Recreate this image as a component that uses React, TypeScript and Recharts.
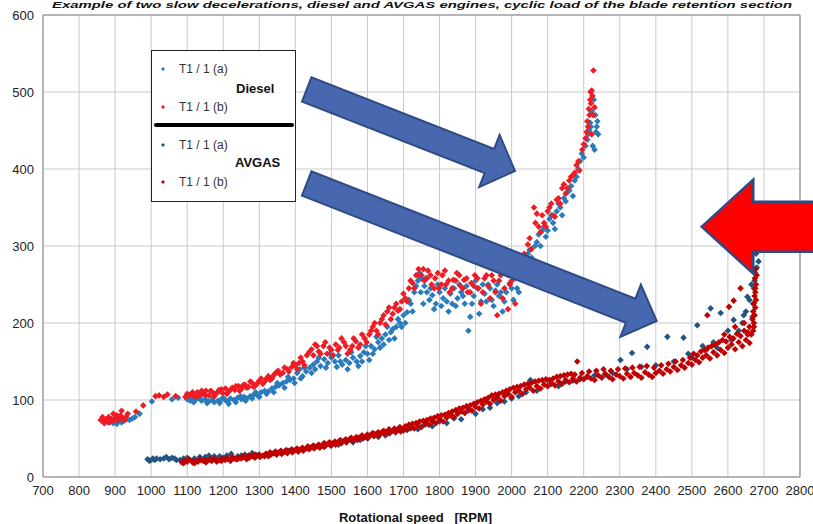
import React from "react";
import {
  CartesianGrid,
  Legend,
  ReferenceLine,
  Scatter,
  ScatterChart,
  XAxis,
  YAxis,
} from "recharts";

type Pt = [number, number];

const X_TICKS = [700, 800, 900, 1000, 1100, 1200, 1300, 1400, 1500, 1600, 1700, 1800, 1900, 2000, 2100, 2200, 2300, 2400, 2500, 2600, 2700, 2800];
const Y_TICKS = [0, 100, 200, 300, 400, 500, 600];

const SERIES_NAMES = ["T1 / 1 (a)", "T1 / 1 (b)", "T1 / 1 (a)", "T1 / 1 (b)"];
const GROUP_NAMES = ["Diesel", "AVGAS"];
const COLORS = ["#2a7bbb", "#ee1c24", "#225682", "#c00000"];

// diesel, run (a)
const dieselA: Pt[] = [
  [865, 72], [872, 74], [880, 71], [885, 76], [888, 73], [895, 70], [902, 72], [905, 69], [910, 74], [918, 71],
  [920, 77], [925, 73], [932, 75], [940, 74], [948, 76], [955, 78], [968, 82], [1002, 98], [1058, 101], [1075, 103],
  [1100, 101], [1108, 99], [1115, 103], [1122, 100], [1130, 102], [1140, 99], [1150, 101], [1160, 98], [1168, 100], [1175, 97],
  [1185, 99], [1195, 101], [1205, 100], [1212, 98], [1220, 102], [1230, 100], [1240, 103], [1250, 101], [1258, 104], [1265, 102],
  [1275, 105], [1285, 107], [1295, 106], [1305, 110], [1315, 112], [1325, 111], [1335, 115], [1345, 117], [1355, 119], [1365, 122],
  [1375, 124], [1385, 126], [1395, 128], [1405, 135], [1412, 140], [1420, 131], [1430, 137], [1440, 142], [1450, 146], [1460, 150],
  [1470, 144], [1480, 153], [1490, 148], [1500, 155], [1510, 150], [1520, 158], [1530, 146], [1540, 152], [1550, 148], [1560, 155],
  [1570, 150], [1580, 157], [1590, 162], [1600, 160], [1610, 170], [1620, 166], [1630, 175], [1640, 180], [1650, 185], [1660, 178],
  [1670, 192], [1680, 195], [1690, 200], [1700, 210], [1710, 214], [1720, 225], [1730, 240], [1740, 255], [1745, 265], [1750, 258],
  [1758, 248], [1765, 240], [1772, 230], [1780, 236], [1790, 225], [1800, 240], [1810, 232], [1820, 228], [1830, 238], [1840, 245],
  [1850, 232], [1860, 240], [1870, 225], [1880, 190], [1885, 208], [1895, 235], [1905, 245], [1915, 228], [1925, 238], [1935, 250],
  [1945, 230], [1955, 242], [1965, 235], [1975, 215], [1985, 240], [1995, 252], [2005, 230], [2015, 245], [2025, 258], [2035, 262],
  [2045, 290], [2055, 285], [2065, 300], [2075, 315], [2085, 320], [2095, 312], [2105, 335], [2115, 330], [2125, 345], [2135, 350],
  [2145, 362], [2155, 370], [2165, 378], [2175, 385], [2185, 400], [2195, 420], [2205, 430], [2212, 445], [2218, 460], [2222, 475],
  [2228, 490], [2232, 470], [2236, 455], [2240, 445], [2225, 430], [2215, 450], [2230, 425],
  [1105, 104], [1118, 97], [1135, 104], [1155, 96], [1172, 103], [1190, 96], [1200, 103], [1215, 95], [1235, 97], [1248, 105],
  [1262, 99], [1280, 102], [1290, 110], [1300, 104], [1320, 108], [1340, 110], [1350, 122], [1370, 116], [1380, 130], [1398, 122],
  [1415, 128], [1425, 142], [1445, 135], [1455, 140], [1465, 155], [1485, 142], [1495, 160], [1515, 143], [1525, 150], [1545, 140],
  [1555, 162], [1575, 144], [1585, 150], [1595, 170], [1605, 152], [1615, 160], [1625, 182], [1635, 168], [1645, 172], [1655, 195],
  [1665, 188], [1675, 180], [1685, 205], [1695, 195], [1705, 200], [1715, 230], [1725, 215], [1735, 248], [1748, 240], [1755, 225],
  [1762, 258], [1775, 245], [1785, 218], [1795, 250], [1805, 222], [1815, 245], [1825, 215], [1835, 225], [1845, 222], [1855, 250],
  [1865, 235], [1875, 248], [1890, 225], [1900, 255], [1910, 212], [1920, 250], [1930, 228], [1940, 245], [1950, 222], [1960, 250],
  [1970, 240], [1980, 228], [1990, 262], [2000, 245], [2010, 258], [2020, 240], [2030, 270], [2040, 275], [2050, 295], [2060, 280],
  [2070, 305], [2080, 300], [2090, 325], [2100, 320], [2110, 340], [2120, 322], [2130, 355], [2140, 340], [2150, 358], [2160, 372],
  [2170, 365], [2180, 390], [2190, 410], [2200, 415], [2210, 438], [2220, 455], [2234, 448], [2238, 462],
];

// diesel, run (b)
const dieselB: Pt[] = [
  [860, 74], [868, 76], [870, 70], [875, 72], [882, 78], [890, 75], [895, 82], [897, 73], [905, 80], [912, 77],
  [918, 86], [925, 74], [930, 78], [958, 85], [978, 93], [1012, 105], [1022, 106], [1035, 104], [1045, 107], [1068, 105],
  [1095, 104], [1105, 106], [1112, 108], [1120, 105], [1128, 110], [1136, 107], [1145, 109], [1152, 112], [1160, 106], [1170, 110],
  [1178, 108], [1188, 113], [1198, 109], [1206, 115], [1215, 111], [1225, 116], [1232, 113], [1242, 118], [1250, 114], [1260, 120],
  [1270, 117], [1280, 122], [1290, 119], [1300, 125], [1310, 121], [1320, 128], [1330, 126], [1340, 132], [1352, 138], [1365, 135],
  [1378, 140], [1390, 143], [1400, 145], [1410, 148], [1420, 150], [1432, 158], [1445, 166], [1455, 172], [1465, 163], [1478, 170],
  [1488, 160], [1500, 165], [1512, 172], [1522, 168], [1535, 175], [1545, 160], [1558, 170], [1568, 176], [1580, 172], [1592, 180],
  [1605, 185], [1615, 195], [1625, 190], [1635, 200], [1645, 210], [1655, 215], [1665, 205], [1675, 220], [1685, 216], [1695, 228],
  [1705, 232], [1715, 245], [1725, 252], [1735, 262], [1742, 270], [1750, 262], [1758, 255], [1768, 268], [1778, 250], [1788, 258],
  [1798, 245], [1808, 262], [1818, 250], [1828, 240], [1838, 256], [1848, 265], [1858, 248], [1868, 256], [1878, 240], [1888, 252],
  [1898, 262], [1908, 245], [1915, 225], [1925, 258], [1935, 248], [1945, 262], [1955, 240], [1960, 210], [1965, 255], [1975, 232],
  [1985, 265], [1990, 218], [1995, 250], [2005, 270], [2010, 225], [2015, 262], [2025, 280], [2035, 290], [2045, 302], [2055, 296],
  [2062, 350], [2070, 342], [2080, 318], [2090, 330], [2100, 345], [2110, 355], [2120, 338], [2130, 362], [2140, 375], [2150, 368],
  [2160, 385], [2170, 392], [2180, 405], [2188, 398], [2196, 425], [2205, 440], [2210, 462], [2212, 455], [2216, 470], [2219, 500],
  [2220, 485], [2222, 445], [2224, 495], [2227, 528], [2230, 480],
  [865, 78], [878, 75], [885, 71], [900, 77], [908, 74], [915, 80], [922, 76], [935, 82], [1100, 108], [1115, 110],
  [1125, 104], [1140, 112], [1150, 106], [1165, 112], [1175, 105], [1185, 110], [1195, 114], [1210, 108], [1220, 113], [1235, 118],
  [1245, 112], [1255, 119], [1265, 116], [1275, 124], [1285, 117], [1295, 122], [1305, 128], [1315, 124], [1325, 131], [1335, 128],
  [1345, 135], [1358, 133], [1370, 142], [1382, 137], [1395, 148], [1405, 140], [1415, 155], [1425, 145], [1438, 162], [1450, 158],
  [1460, 170], [1470, 160], [1483, 175], [1495, 168], [1505, 158], [1518, 165], [1528, 180], [1540, 170], [1552, 165], [1562, 180],
  [1575, 168], [1585, 185], [1598, 175], [1610, 190], [1620, 200], [1630, 185], [1640, 205], [1650, 198], [1660, 220], [1670, 212],
  [1680, 225], [1690, 218], [1700, 238], [1710, 228], [1720, 255], [1730, 245], [1740, 262], [1755, 270], [1765, 258], [1775, 262],
  [1785, 245], [1795, 265], [1805, 250], [1815, 268], [1825, 255], [1835, 245], [1845, 255], [1855, 262], [1865, 245], [1875, 258],
  [1885, 240], [1895, 248], [1905, 258], [1920, 240], [1930, 262], [1940, 232], [1950, 255], [1970, 262], [1980, 245], [2000, 255],
  [2020, 270], [2030, 275], [2040, 285], [2050, 310], [2066, 330], [2075, 325], [2085, 340], [2095, 325], [2105, 350], [2115, 340],
  [2125, 360], [2135, 355], [2145, 380], [2155, 375], [2165, 390], [2175, 395], [2185, 410], [2200, 432], [2208, 448], [2214, 478],
  [2218, 490], [2226, 470], [2222, 502],
];

// AVGAS, run (a)
const avgasA: Pt[] = [
  [990, 23], [995, 21], [1000, 22], [1005, 24], [1010, 22], [1035, 24], [1042, 26], [1050, 23], [1058, 25], [1065, 24],
  [1080, 22], [1090, 24], [1100, 25], [1150, 26], [1160, 28], [1175, 27], [1210, 28], [1222, 30], [1240, 27], [1260, 29],
  [1290, 29], [1320, 30], [1360, 33], [1400, 35], [1440, 37], [1480, 39], [1520, 42], [1560, 45], [1600, 50], [1630, 52],
  [1660, 57], [1700, 60], [1740, 62], [1780, 66], [1820, 70], [1860, 75], [1900, 82], [1940, 90], [1980, 98], [2020, 105],
  [2052, 126], [2098, 126], [2130, 118], [2170, 125], [2210, 130], [2260, 133], [2302, 152], [2334, 161], [2376, 169], [2432, 182],
  [2477, 181], [2490, 160], [2515, 197], [2530, 170], [2552, 219], [2560, 175], [2580, 213], [2600, 190], [2616, 204], [2640, 200],
  [2644, 210], [2654, 234], [2665, 250], [2668, 208], [2672, 245], [2676, 265], [2678, 290], [2680, 272], [2685, 280],
  [1015, 24], [1025, 23], [1070, 22], [1120, 24], [1135, 26], [1190, 27], [1200, 25], [1250, 28], [1280, 31], [1340, 31],
  [1380, 34], [1420, 36], [1460, 40], [1500, 41], [1540, 46], [1580, 48], [1620, 55], [1650, 54], [1680, 61], [1720, 63],
  [1760, 68], [1800, 72], [1840, 76], [1880, 86], [1920, 88], [1960, 96], [2000, 102], [2040, 110], [2070, 112], [2110, 121],
  [2150, 124], [2190, 127], [2230, 132], [2280, 135], [2320, 140], [2360, 143], [2400, 145], [2450, 150], [2500, 155], [2540, 165],
  [2570, 168], [2610, 178], [2630, 190], [2650, 215], [2660, 230], [2670, 225], [2674, 255],
];

// AVGAS, run (b)
const avgasB: Pt[] = [
  [1085, 19], [1092, 21], [1100, 20], [1108, 22], [1115, 19], [1122, 21], [1130, 20], [1138, 22], [1145, 21], [1152, 19],
  [1160, 22], [1168, 21], [1175, 23], [1182, 20], [1190, 22], [1198, 24], [1205, 22], [1212, 23], [1220, 21], [1228, 24],
  [1235, 23], [1242, 25], [1250, 24], [1258, 26], [1265, 23], [1272, 25], [1280, 27], [1288, 25], [1295, 28], [1302, 26],
  [1310, 28], [1318, 30], [1325, 27], [1332, 29], [1340, 31], [1348, 29], [1355, 32], [1362, 30], [1370, 33], [1378, 31],
  [1385, 34], [1392, 32], [1400, 35], [1408, 33], [1415, 36], [1422, 34], [1430, 37], [1438, 36], [1445, 39], [1452, 37],
  [1460, 40], [1468, 38], [1475, 41], [1482, 40], [1490, 43], [1498, 41], [1505, 44], [1512, 42], [1520, 46], [1528, 44],
  [1535, 47], [1542, 45], [1550, 49], [1558, 47], [1565, 50], [1572, 48], [1580, 52], [1588, 50], [1595, 53], [1602, 51],
  [1610, 55], [1618, 53], [1625, 56], [1632, 54], [1640, 58], [1648, 56], [1655, 59], [1662, 57], [1670, 60], [1678, 58],
  [1685, 62], [1692, 59], [1700, 63], [1710, 61], [1720, 65], [1730, 63], [1740, 67], [1750, 65], [1760, 70], [1770, 68],
  [1780, 72], [1790, 70], [1800, 75], [1810, 72], [1820, 77], [1830, 80], [1840, 78], [1850, 82], [1860, 85], [1870, 83],
  [1880, 88], [1890, 86], [1900, 91], [1910, 89], [1920, 94], [1930, 98], [1940, 95], [1950, 100], [1960, 103], [1970, 99],
  [1980, 105], [1990, 108], [2000, 104], [2010, 110], [2020, 112], [2030, 108], [2040, 114], [2050, 116], [2060, 112], [2070, 118],
  [2080, 115], [2090, 120], [2100, 118], [2110, 122], [2120, 119], [2130, 124], [2140, 121], [2150, 126], [2160, 123], [2170, 128],
  [2180, 124], [2182, 150], [2190, 129], [2200, 127], [2210, 131], [2220, 128], [2230, 126], [2240, 132], [2250, 129], [2260, 134],
  [2270, 130], [2280, 127], [2290, 133], [2300, 131], [2310, 128], [2320, 134], [2330, 130], [2340, 135], [2350, 132], [2360, 129],
  [2370, 136], [2380, 133], [2390, 130], [2400, 135], [2410, 138], [2420, 134], [2430, 140], [2440, 137], [2450, 143], [2460, 139],
  [2470, 145], [2480, 142], [2490, 148], [2500, 146], [2510, 152], [2520, 149], [2530, 155], [2540, 158], [2543, 210], [2550, 154],
  [2560, 162], [2570, 158], [2580, 165], [2590, 161], [2590, 185], [2600, 168], [2603, 221], [2610, 172], [2616, 229], [2620, 166],
  [2620, 195], [2630, 175], [2635, 245], [2640, 170], [2645, 200], [2650, 178], [2655, 185], [2660, 174], [2665, 185], [2670, 190],
  [2672, 195], [2672, 200], [2674, 210], [2675, 258], [2676, 220], [2676, 240], [2678, 230], [2678, 250],
  [1090, 18], [1105, 23], [1120, 18], [1135, 23], [1150, 22], [1165, 24], [1180, 23], [1195, 21], [1210, 25], [1225, 26],
  [1240, 23], [1255, 27], [1270, 28], [1285, 29], [1300, 29], [1315, 27], [1330, 32], [1345, 33], [1360, 34], [1375, 35],
  [1390, 36], [1405, 37], [1420, 38], [1435, 40], [1450, 41], [1465, 42], [1480, 44], [1495, 45], [1510, 46], [1525, 48],
  [1540, 49], [1555, 51], [1570, 52], [1585, 54], [1600, 55], [1615, 57], [1630, 58], [1645, 60], [1660, 62], [1675, 63],
  [1690, 65], [1705, 66], [1715, 68], [1725, 69], [1735, 70], [1745, 72], [1755, 73], [1765, 74], [1775, 76], [1785, 77],
  [1795, 79], [1805, 80], [1815, 81], [1825, 83], [1835, 85], [1845, 87], [1855, 89], [1865, 90], [1875, 92], [1885, 93],
  [1895, 95], [1905, 97], [1915, 99], [1925, 101], [1935, 103], [1945, 106], [1955, 107], [1965, 108], [1975, 110], [1985, 112],
  [1995, 114], [2005, 116], [2015, 117], [2025, 118], [2035, 120], [2045, 121], [2055, 122], [2065, 124], [2075, 125], [2085, 126],
  [2095, 127], [2105, 126], [2115, 128], [2125, 130], [2135, 131], [2145, 132], [2155, 133], [2165, 134], [2175, 133], [2195, 135],
  [2215, 137], [2235, 138], [2255, 140], [2275, 138], [2295, 140], [2315, 141], [2335, 142], [2355, 143], [2375, 144], [2395, 142],
  [2415, 145], [2435, 147], [2455, 150], [2475, 152], [2495, 155], [2505, 160], [2515, 158], [2525, 163], [2535, 165], [2545, 168],
  [2555, 170], [2565, 172], [2575, 175], [2585, 178], [2595, 176], [2605, 182], [2615, 180], [2625, 186], [2635, 183], [2645, 190],
  [2655, 188], [2660, 195], [2668, 205], [2670, 215], [2672, 225], [2674, 235], [2676, 245], [2680, 262], [2677, 270],
];

const toRows = (pts: Pt[]) => pts.map(([x, y]) => ({ x, y }));

const NARROW = "'Liberation Sans Narrow', 'Arial Narrow', 'Liberation Sans', sans-serif";
const SANS = "'Liberation Sans', Arial, sans-serif";

function Dot(props: any) {
  const { cx, cy, fill } = props;
  if (cx == null || cy == null) return null;
  const r = 3.3;
  return <path d={`M${cx},${cy - r}L${cx + r},${cy}L${cx},${cy + r}L${cx - r},${cy}Z`} fill={fill} />;
}

function LegendBox() {
  const rows = [
    { y: 19, color: COLORS[0], name: SERIES_NAMES[0] },
    { y: 57, color: COLORS[1], name: SERIES_NAMES[1] },
    { y: 95, color: COLORS[2], name: SERIES_NAMES[2] },
    { y: 132, color: COLORS[3], name: SERIES_NAMES[3] },
  ];
  return (
    <svg width={145} height={152} style={{ display: "block" }}>
      <rect x={0.5} y={0.5} width={144} height={151} fill="#fff" stroke="#222" />
      {rows.map((r, i) => (
        <g key={i}>
          <path d={`M12,${r.y - 2}L14,${r.y}L12,${r.y + 2}L10,${r.y}Z`} fill={r.color} />
          <text x={28} y={r.y + 4} fontSize={12} fontFamily={SANS} fill="#333">
            {r.name}
          </text>
        </g>
      ))}
      <text x={85} y={43} fontSize={13} fontWeight="bold" fontFamily={SANS} fill="#111">
        {GROUP_NAMES[0]}
      </text>
      <line x1={5} y1={75} x2={141} y2={75} stroke="#000" strokeWidth={4} strokeLinecap="round" />
      <text x={84} y={117} fontSize={13} fontWeight="bold" fontFamily={SANS} fill="#111">
        {GROUP_NAMES[1]}
      </text>
    </svg>
  );
}

// arrow outline from tail middle to tip
function arrow(tx: number, ty: number, hx: number, hy: number, shaft: number, head: number, headLen: number) {
  const len = Math.hypot(hx - tx, hy - ty);
  const ux = (hx - tx) / len;
  const uy = (hy - ty) / len;
  const nx = -uy;
  const ny = ux;
  const bx = hx - ux * headLen;
  const by = hy - uy * headLen;
  const p = [
    [tx + nx * shaft, ty + ny * shaft],
    [bx + nx * shaft, by + ny * shaft],
    [bx + nx * head, by + ny * head],
    [hx, hy],
    [bx - nx * head, by - ny * head],
    [bx - nx * shaft, by - ny * shaft],
    [tx - nx * shaft, ty - ny * shaft],
  ];
  return p.map((q) => q.join(",")).join(" ");
}

export default function App() {
  return (
    <div style={{ position: "absolute", left: 0, top: 0, width: 813, height: 524, background: "#fff" }}>
      <ScatterChart width={813} height={524} margin={{ top: 15, right: 13, bottom: 0, left: 0 }}>
        <CartesianGrid stroke="#c9c9c9" />
        <XAxis
          type="number"
          dataKey="x"
          domain={[700, 2800]}
          ticks={X_TICKS}
          interval={0}
          allowDataOverflow
          height={47}
          tickLine={false}
          tickSize={0}
          tickMargin={9}
          axisLine={{ stroke: "#868686" }}
          tick={{ fontSize: 13, fill: "#222", fontFamily: NARROW }}
          label={{
            value: "Rotational speed\u00a0\u00a0\u00a0[RPM]",
            position: "insideBottom",
            offset: 2,
            dx: -6,
            style: { fontSize: 13, fontWeight: "bold", fill: "#111", fontFamily: NARROW },
          }}
        />
        <YAxis
          type="number"
          dataKey="y"
          domain={[0, 600]}
          ticks={Y_TICKS}
          interval={0}
          allowDataOverflow
          width={43}
          tickLine={false}
          tickSize={0}
          tickMargin={9}
          axisLine={{ stroke: "#868686" }}
          tick={{ fontSize: 13, fill: "#222", fontFamily: NARROW }}
        />
        <ReferenceLine y={600} stroke="#868686" />
        <ReferenceLine x={2800} stroke="#868686" />
        <Legend
          layout="vertical"
          align="center"
          verticalAlign="middle"
          content={() => <LegendBox />}
          wrapperStyle={{ left: 151, top: 50, width: 145, height: 152 }}
        />
        <Scatter name="Diesel (a)" data={toRows(dieselA)} fill={COLORS[0]} shape={Dot} isAnimationActive={false} />
        <Scatter name="Diesel (b)" data={toRows(dieselB)} fill={COLORS[1]} shape={Dot} isAnimationActive={false} />
        <Scatter name="AVGAS (a)" data={toRows(avgasA)} fill={COLORS[2]} shape={Dot} isAnimationActive={false} />
        <Scatter name="AVGAS (b)" data={toRows(avgasB)} fill={COLORS[3]} shape={Dot} isAnimationActive={false} />
      </ScatterChart>
      <svg
        width={813}
        height={524}
        style={{ position: "absolute", left: 0, top: 0, pointerEvents: "none" }}
      >
        <text
          x={52}
          y={8}
          textLength={740}
          lengthAdjust="spacingAndGlyphs"
          fontSize={9.5}
          fontWeight="bold"
          fontStyle="italic"
          fontFamily={SANS}
          fill="#111"
        >
          Example of two slow decelerations, diesel and AVGAS engines, cyclic load of the blade retention section
        </text>
        <polygon
          points={arrow(306.7, 89.5, 515, 171, 13, 28, 27.5)}
          fill="#4767ae"
          stroke="#2f4a85"
          strokeWidth={2}
          strokeLinejoin="miter"
        />
        <polygon
          points={arrow(306.7, 183.5, 656.7, 321, 13, 28, 28)}
          fill="#4767ae"
          stroke="#2f4a85"
          strokeWidth={2}
          strokeLinejoin="miter"
        />
        <polygon
          points={arrow(840, 226.7, 701.7, 226.7, 25, 47, 51.6)}
          fill="#ff0000"
          stroke="#2f4a85"
          strokeWidth={2.5}
          strokeLinejoin="miter"
        />
      </svg>
    </div>
  );
}
